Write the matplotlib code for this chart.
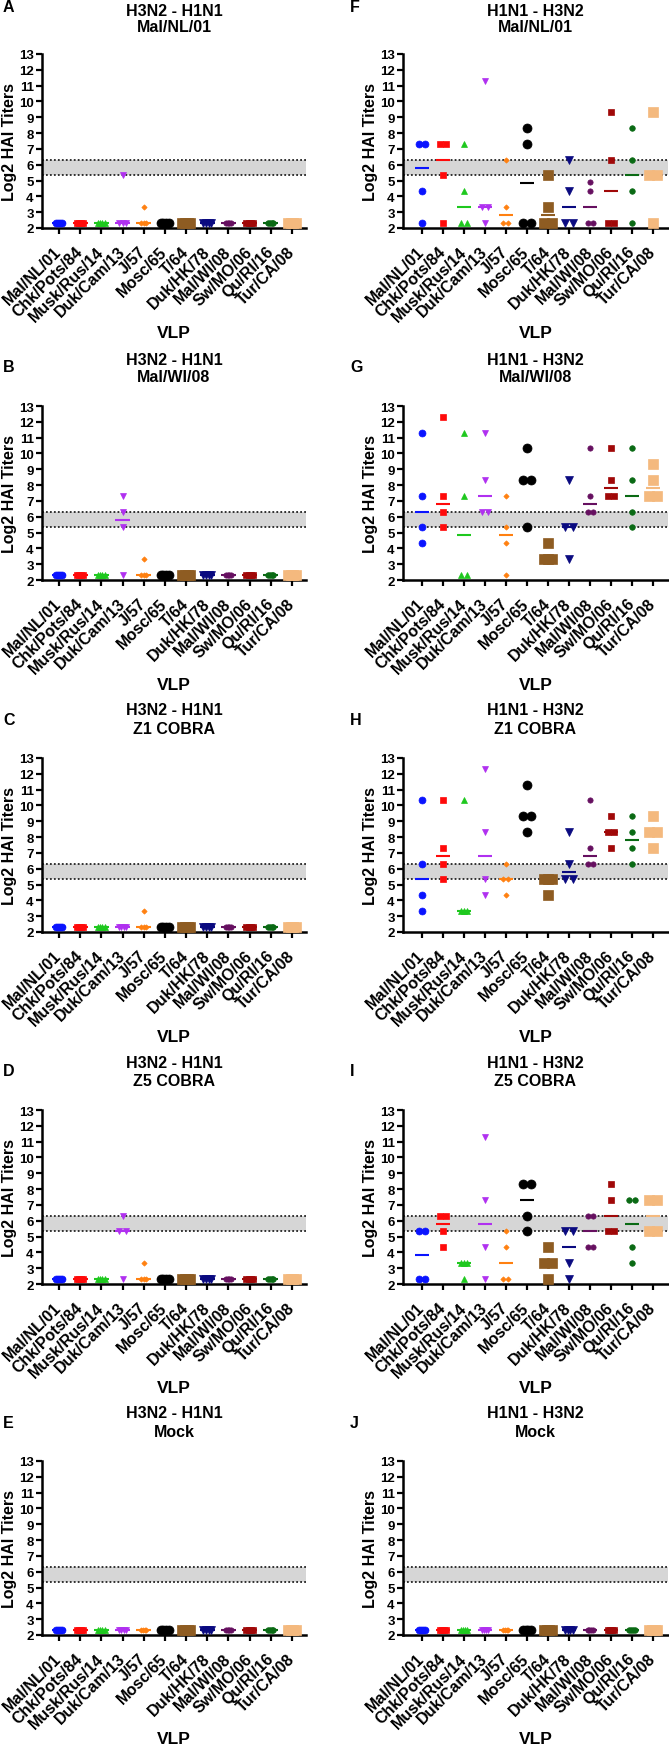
import numpy as np
import matplotlib
matplotlib.use('Agg')
import matplotlib.pyplot as plt

plt.rcParams['font.family'] = ['Liberation Sans', 'DejaVu Sans']
plt.rcParams['font.weight'] = 'bold'

vlps = ['Mal/NL/01', 'Chk/Pots/84', 'Musk/Rus/14', 'Duk/Cam/13', 'J/57', 'Mosc/65',
        'T/64', 'Duk/HK/78', 'Mal/WI/08', 'Sw/MO/06', 'Qu/RI/16', 'Tur/CA/08']
colors = ['#0a14ff', '#ff0a0a', '#1ec81e', '#b030f0', '#ff8010', '#000000',
          '#8e5c22', '#0a0a80', '#661060', '#a00808', '#0a6a14', '#f4b97e']
markers = ['o', 's', '^', 'v', 'D', 'o', 's', 'v', 'o', 's', 'o', 's']
msizes = [5, 5, 5, 5, 2.7, 6.5, 6.5, 6, 3.8, 5, 4, 6.5]

band_lo, band_hi = 5.32, 6.32

# log2 HAI titers, 4 mice per VLP, in vlps order
panel_A = [[2.32, 2.32, 2.32, 2.32], [2.32, 2.32, 2.32, 2.32], [2.32, 2.32, 2.32, 2.32],
           [5.32, 2.32, 2.32, 2.32], [3.32, 2.32, 2.32, 2.32], [2.32, 2.32, 2.32, 2.32],
           [2.32, 2.32, 2.32, 2.32], [2.32, 2.32, 2.32, 2.32], [2.32, 2.32, 2.32, 2.32],
           [2.32, 2.32, 2.32, 2.32], [2.32, 2.32, 2.32, 2.32], [2.32, 2.32, 2.32, 2.32]]
panel_B = [[2.32, 2.32, 2.32, 2.32], [2.32, 2.32, 2.32, 2.32], [2.32, 2.32, 2.32, 2.32],
           [7.32, 6.32, 5.32, 2.32], [3.32, 2.32, 2.32, 2.32], [2.32, 2.32, 2.32, 2.32],
           [2.32, 2.32, 2.32, 2.32], [2.32, 2.32, 2.32, 2.32], [2.32, 2.32, 2.32, 2.32],
           [2.32, 2.32, 2.32, 2.32], [2.32, 2.32, 2.32, 2.32], [2.32, 2.32, 2.32, 2.32]]
panel_C = [[2.32, 2.32, 2.32, 2.32], [2.32, 2.32, 2.32, 2.32], [2.32, 2.32, 2.32, 2.32],
           [2.32, 2.32, 2.32, 2.32], [3.32, 2.32, 2.32, 2.32], [2.32, 2.32, 2.32, 2.32],
           [2.32, 2.32, 2.32, 2.32], [2.32, 2.32, 2.32, 2.32], [2.32, 2.32, 2.32, 2.32],
           [2.32, 2.32, 2.32, 2.32], [2.32, 2.32, 2.32, 2.32], [2.32, 2.32, 2.32, 2.32]]
panel_D = [[2.32, 2.32, 2.32, 2.32], [2.32, 2.32, 2.32, 2.32], [2.32, 2.32, 2.32, 2.32],
           [6.32, 5.32, 5.32, 2.32], [3.32, 2.32, 2.32, 2.32], [2.32, 2.32, 2.32, 2.32],
           [2.32, 2.32, 2.32, 2.32], [2.32, 2.32, 2.32, 2.32], [2.32, 2.32, 2.32, 2.32],
           [2.32, 2.32, 2.32, 2.32], [2.32, 2.32, 2.32, 2.32], [2.32, 2.32, 2.32, 2.32]]
panel_E = [[2.32, 2.32, 2.32, 2.32], [2.32, 2.32, 2.32, 2.32], [2.32, 2.32, 2.32, 2.32],
           [2.32, 2.32, 2.32, 2.32], [2.32, 2.32, 2.32, 2.32], [2.32, 2.32, 2.32, 2.32],
           [2.32, 2.32, 2.32, 2.32], [2.32, 2.32, 2.32, 2.32], [2.32, 2.32, 2.32, 2.32],
           [2.32, 2.32, 2.32, 2.32], [2.32, 2.32, 2.32, 2.32], [2.32, 2.32, 2.32, 2.32]]
panel_F = [[7.32, 7.32, 4.32, 2.32], [7.32, 7.32, 5.32, 2.32], [7.32, 4.32, 2.32, 2.32],
           [11.32, 3.32, 3.32, 2.32], [6.32, 3.32, 2.32, 2.32], [8.32, 7.32, 2.32, 2.32],
           [5.32, 3.32, 2.32, 2.32], [6.32, 4.32, 2.32, 2.32], [4.92, 4.32, 2.32, 2.32],
           [9.32, 6.32, 2.32, 2.32], [8.32, 6.32, 4.32, 2.32], [9.32, 5.32, 5.32, 2.32]]
panel_G = [[11.32, 7.32, 5.32, 4.32], [12.32, 7.32, 6.32, 5.32], [11.32, 7.32, 2.32, 2.32],
           [11.32, 8.32, 6.32, 6.32], [7.32, 5.32, 4.32, 2.32], [10.32, 8.32, 8.32, 5.32],
           [4.32, 3.32, 3.32, 3.32], [8.32, 5.32, 5.32, 3.32], [10.32, 7.32, 6.32, 6.32],
           [10.32, 8.32, 7.32, 7.32], [10.32, 8.32, 6.32, 5.32], [9.32, 8.32, 7.32, 7.32]]
panel_H = [[10.32, 6.32, 4.32, 3.32], [10.32, 7.32, 6.32, 5.32], [10.32, 3.32, 3.32, 3.32],
           [12.32, 8.32, 5.32, 4.32], [6.32, 5.32, 5.32, 4.32], [11.32, 9.32, 9.32, 8.32],
           [5.32, 5.32, 5.32, 4.32], [8.32, 6.32, 5.32, 5.32], [10.32, 7.32, 6.32, 6.32],
           [9.32, 8.32, 8.32, 7.32], [9.32, 8.32, 7.32, 6.32], [9.32, 8.32, 8.32, 7.32]]
panel_I = [[5.32, 5.32, 2.32, 2.32], [6.32, 6.32, 5.32, 4.32], [3.32, 3.32, 3.32, 2.32],
           [11.32, 7.32, 4.32, 2.32], [5.32, 4.32, 2.32, 2.32], [8.32, 8.32, 6.32, 5.32],
           [4.32, 3.32, 3.32, 2.32], [5.32, 5.32, 3.32, 2.32], [6.32, 6.32, 4.32, 4.32],
           [8.32, 7.32, 5.32, 5.32], [7.32, 7.32, 4.32, 3.32], [7.32, 7.32, 5.32, 5.32]]
panel_J = [[2.32, 2.32, 2.32, 2.32], [2.32, 2.32, 2.32, 2.32], [2.32, 2.32, 2.32, 2.32],
           [2.32, 2.32, 2.32, 2.32], [2.32, 2.32, 2.32, 2.32], [2.32, 2.32, 2.32, 2.32],
           [2.32, 2.32, 2.32, 2.32], [2.32, 2.32, 2.32, 2.32], [2.32, 2.32, 2.32, 2.32],
           [2.32, 2.32, 2.32, 2.32], [2.32, 2.32, 2.32, 2.32], [2.32, 2.32, 2.32, 2.32]]

left_panels = [('A', 'Mal/NL/01', panel_A), ('B', 'Mal/WI/08', panel_B),
               ('C', 'Z1 COBRA', panel_C), ('D', 'Z5 COBRA', panel_D),
               ('E', 'Mock', panel_E)]
right_panels = [('F', 'Mal/NL/01', panel_F), ('G', 'Mal/WI/08', panel_G),
                ('H', 'Z1 COBRA', panel_H), ('I', 'Z5 COBRA', panel_I),
                ('J', 'Mock', panel_J)]

W, H = 669, 1749
fig = plt.figure(figsize=(W / 100, H / 100), dpi=100)


def fx(px):
    return px / W


def fy(py):
    return 1 - py / H


def dot_panel(ax, data, xlim):
    ax.axhspan(band_lo, band_hi, color='#d6d6d6', lw=0, zorder=0)
    for y in (band_lo, band_hi):
        ax.axhline(y, color='#222222', ls=(0, (1, 1.2)), lw=1.3, zorder=1)
    px_unit = 21.1
    for i, vals in enumerate(data):
        vals = np.array(vals)
        med = np.median(vals)
        ax.plot([i - 0.35, i + 0.35], [med, med], color=colors[i], lw=1.5,
                solid_capstyle='butt', zorder=2)
        mw = msizes[i] * 100 / 72
        if markers[i] == 'D':
            mw *= 1.41
        for v in np.unique(vals):
            m = int(np.sum(vals == v))
            if m == 1:
                xs = np.array([i])
            else:
                spread = 0.95 * mw / px_unit
                xs = i + np.linspace(-spread / 2, spread / 2, m)
            ax.plot(xs, [v] * m, ls='none', marker=markers[i], ms=msizes[i],
                    color=colors[i], mec=colors[i], mew=0.5, zorder=3, clip_on=False)
    ax.set_xlim(*xlim)
    ax.set_ylim(2, 13)
    ax.set_yticks(range(2, 14))
    ax.set_yticklabels([str(v) for v in range(2, 14)], fontsize=9.5, fontweight='bold')
    ax.set_xticks(range(len(vlps)))
    ax.set_xticklabels(vlps, rotation=45, ha='right', va='center', rotation_mode='anchor',
                       fontsize=11.5, fontweight='bold')
    ax.tick_params(direction='out', length=4, width=1.6, pad=2)
    ax.tick_params(axis='x', pad=11)
    for s in ('top', 'right'):
        ax.spines[s].set_visible(False)
    for s in ('left', 'bottom'):
        ax.spines[s].set_linewidth(1.8)


row_tops = [55, 407, 759, 1111, 1462]
title1_y = [12, 361, 711, 1063, 1414]
title2_y = [27, 378, 730, 1082, 1433]
letter_y = [8, 368, 721, 1072, 1424]
ax_h = 174

cols = [(42, 306, (-0.8, 11.66), 'H3N2 - H1N1', left_panels, 3),
        (403, 668, (-0.9, 11.71), 'H1N1 - H3N2', right_panels, 350)]

for x0, x1, xlim, head, panels, letter_x in cols:
    for r, (letter, sub, data) in enumerate(panels):
        top = row_tops[r]
        ax = fig.add_axes([fx(x0), fy(top + ax_h), fx(x1 - x0), ax_h / H])
        dot_panel(ax, data, xlim)
        cx = (x0 + x1) / 2
        fig.text(fx(cx), fy(title1_y[r]), head, ha='center', va='center',
                 fontsize=11.5, fontweight='bold')
        fig.text(fx(cx), fy(title2_y[r]), sub, ha='center', va='center',
                 fontsize=11.5, fontweight='bold')
        fig.text(fx(letter_x), fy(letter_y[r]), letter, ha='left', va='center',
                 fontsize=11.5, fontweight='bold')
        fig.text(fx(x0 - 32), fy(top + ax_h / 2), 'Log2 HAI Titers', rotation=90,
                 ha='center', va='center', fontsize=11.5, fontweight='bold')
        fig.text(fx(cx), fy(top + ax_h + 104), 'VLP', ha='center', va='center',
                 fontsize=12.5, fontweight='bold')

fig.savefig('out.png', dpi=100)
